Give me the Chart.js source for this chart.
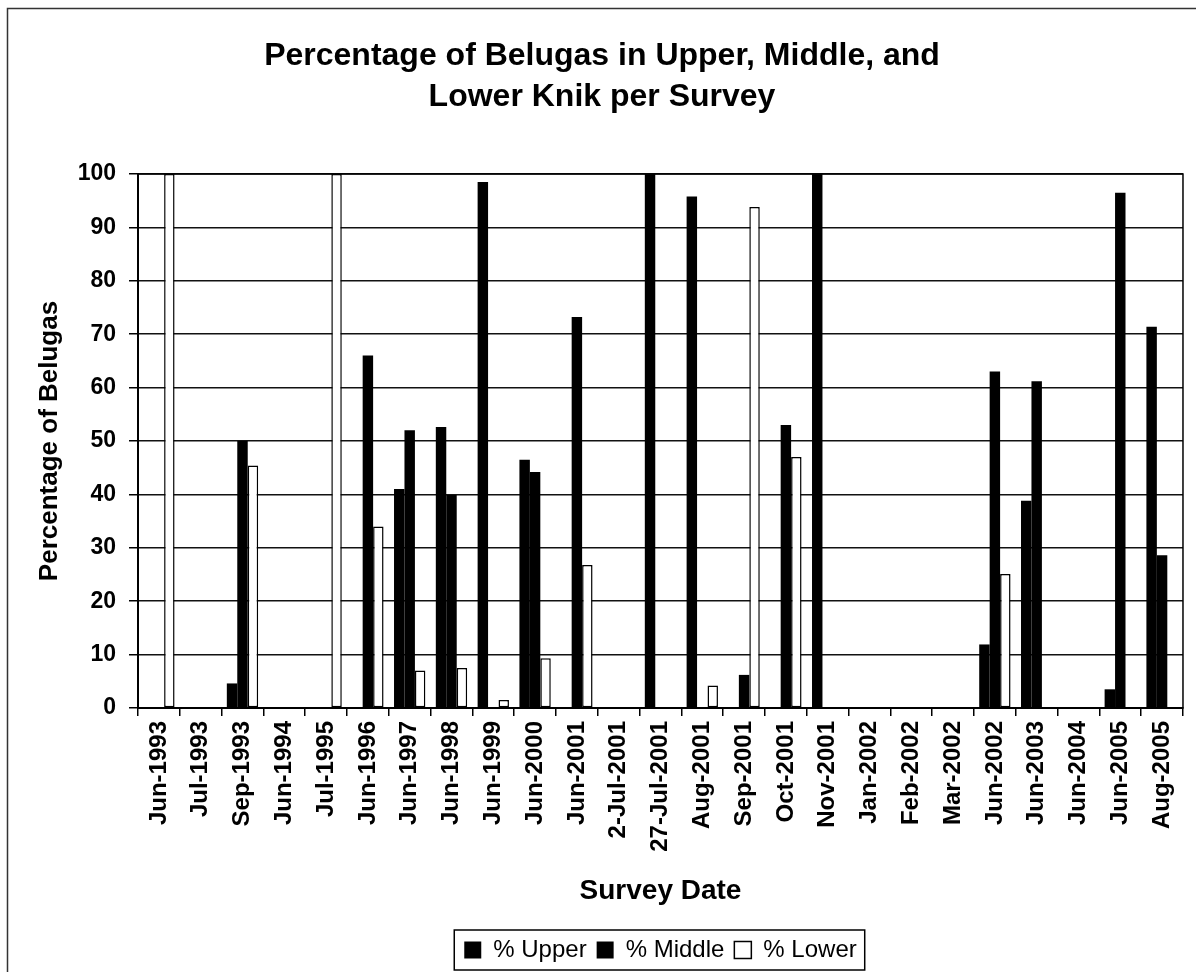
<!DOCTYPE html>
<html>
<head>
<meta charset="utf-8">
<script src="https://cdn.jsdelivr.net/npm/chart.js@4.4.1/dist/chart.umd.min.js"></script>
<style>
html,body{margin:0;padding:0;background:#fff;}
canvas{display:block;}
</style>
</head>
<body>
<canvas id="c" width="1196" height="972"></canvas>
<script>
const categories = ['Jun-1993','Jul-1993','Sep-1993','Jun-1994','Jul-1995','Jun-1996','Jun-1997','Jun-1998','Jun-1999','Jun-2000','Jun-2001','2-Jul-2001','27-Jul-2001','Aug-2001','Sep-2001','Oct-2001','Nov-2001','Jan-2002','Feb-2002','Mar-2002','Jun-2002','Jun-2003','Jun-2004','Jun-2005','Aug-2005'];
const upperPct  = [0, 0, 4.6, 0, 0,   0, 41, 52.6, 98.5, 46.5, 0,    0, 100, 95.8, 0,    0,  100, 0, 0, 0, 11.9, 38.8, 0, 3.5, 71.4];
const middlePct = [0, 0, 50,  0, 0,  66, 52, 39.9, 0,    44.2, 73.2, 0, 0,   0,    6.2, 53,  0,   0, 0, 0, 63,   61.2, 0, 96.5, 28.6];
const lowerPct  = [100,0,45.4,0, 100,34, 7,  7.5,  1.5,  9.3,  26.8, 0, 0,   4.2,  93.8, 47, 0,   0, 0, 0, 25.1, 0,    0, 0,   0];
const seriesNames = ['% Upper', '% Middle', '% Lower'];
const titleLines = ['Percentage of Belugas in Upper, Middle, and', 'Lower Knik per Survey'];
const yTitle = 'Percentage of Belugas';
const xTitle = 'Survey Date';

const FONT = "'Liberation Sans', Arial, Helvetica, sans-serif";

const decorPlugin = {
  id: 'decor',
  beforeDraw(chart) {
    const ctx = chart.ctx;
    ctx.save();
    ctx.fillStyle = '#fff';
    ctx.fillRect(0, 0, chart.width, chart.height);
    ctx.strokeStyle = '#333';
    ctx.lineWidth = 1.5;
    ctx.beginPath();
    ctx.moveTo(7.5, chart.height);
    ctx.lineTo(7.5, 8.5);
    ctx.lineTo(chart.width, 8.5);
    ctx.stroke();
    ctx.restore();
  },
  afterDraw(chart) {
    const ctx = chart.ctx;
    const a = chart.chartArea;
    ctx.save();
    ctx.strokeStyle = '#000';
    ctx.lineWidth = 1.5;
    ctx.strokeRect(a.left, a.top, a.right - a.left, a.bottom - a.top);
    const lg = chart.legend;
    if (lg && lg.legendHitBoxes && lg.legendHitBoxes.length) {
      let minX = Infinity, maxX = -Infinity, minY = Infinity, maxY = -Infinity;
      lg.legendHitBoxes.forEach(h => {
        minX = Math.min(minX, h.left); maxX = Math.max(maxX, h.left + h.width);
        minY = Math.min(minY, h.top); maxY = Math.max(maxY, h.top + h.height);
      });
      ctx.lineWidth = 1.5;
      ctx.strokeRect(minX - 10, minY - 8, (maxX - minX) + 18, (maxY - minY) + 16);
    }
    ctx.restore();
  }
};

new Chart(document.getElementById('c'), {
  type: 'bar',
  data: {
    labels: categories,
    datasets: [
      { label: seriesNames[0], data: upperPct, backgroundColor: '#000', borderColor: '#000', borderWidth: 0 },
      { label: seriesNames[1], data: middlePct, backgroundColor: '#000', borderColor: '#000', borderWidth: 0 },
      { label: seriesNames[2], data: lowerPct, backgroundColor: '#fff', borderColor: '#000', borderWidth: 1.5, borderSkipped: false }
    ]
  },
  options: {
    responsive: false,
    animation: false,
    devicePixelRatio: 1,
    layout: { padding: { left: 14, right: 6, top: 0, bottom: 0 } },
    datasets: { bar: { categoryPercentage: 0.75, barPercentage: 1.0 } },
    plugins: {
      title: {
        display: true,
        text: titleLines,
        color: '#000',
        font: { family: FONT, size: 32, weight: 'bold', lineHeight: 41/32 },
        padding: { top: 36, bottom: 56 }
      },
      legend: {
        display: true,
        position: 'bottom',
        fullSize: false,
        labels: {
          color: '#000',
          font: { family: FONT, size: 24 },
          boxWidth: 17,
          boxHeight: 17,
          padding: 10
        }
      },
      tooltip: { enabled: false }
    },
    scales: {
      x: {
        offset: true,
        grid: { display: true, drawOnChartArea: false, drawTicks: true, tickLength: 8, color: '#000', lineWidth: 1.5, offset: true },
        border: { display: true, color: '#000', width: 2 },
        ticks: {
          color: '#000',
          font: { family: FONT, size: 24, weight: 'bold' },
          maxRotation: 90, minRotation: 90, autoSkip: false, padding: 5
        },
        title: {
          display: true, text: xTitle, color: '#000',
          font: { family: FONT, size: 28, weight: 'bold' },
          padding: { top: 0, bottom: 20 }
        },
        afterFit(scale) { scale.height = 220; }
      },
      y: {
        min: 0, max: 100,
        grid: { color: '#111', lineWidth: 1.5, drawTicks: true, tickLength: 9, tickColor: '#000' },
        border: { display: true, color: '#000', width: 2 },
        ticks: {
          stepSize: 10, color: '#000', padding: 13,
          font: { family: FONT, size: 23, weight: 'bold' }
        },
        title: {
          display: true, text: yTitle, color: '#000',
          font: { family: FONT, size: 26, weight: 'bold' },
          padding: { top: 20, bottom: 0 }
        },
        afterFit(scale) { scale.width = 124; }
      }
    }
  },
  plugins: [decorPlugin]
});
</script>
</body>
</html>
